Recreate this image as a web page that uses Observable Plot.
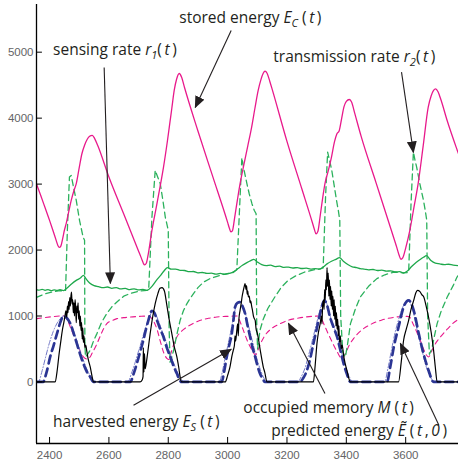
<!DOCTYPE html>
<html><head><meta charset="utf-8">
<script src="https://cdn.jsdelivr.net/npm/d3@7"></script>
<script src="https://cdn.jsdelivr.net/npm/@observablehq/plot@0.6"></script>
<style>body{margin:0;background:#fff} svg{display:block}</style>
</head><body><div id="chart"></div>
<script>
// ---- data: [time, value] ----
const xTicks = [2400, 2600, 2800, 3000, 3200, 3400, 3600];
const yTicks = [0, 1000, 2000, 3000, 4000, 5000];

const storedEnergy = [[2356,3000],[2370,2830],[2385,2640],[2400,2450],[2412,2290],[2422,2150],[2428,2070],[2433,2040],[2438,2060],[2444,2170],[2450,2300],[2456,2400],[2465,2590],[2473,2753],[2482,2900],[2490,3006],[2500,3250],[2509,3460],[2518,3590],[2527,3680],[2535,3725],[2544,3740],[2552,3690],[2562,3590],[2600,3108],[2650,2546],[2700,1983],[2710,1870],[2716,1800],[2720,1775],[2726,1800],[2733,1950],[2745,2298],[2760,2660],[2772,2950],[2784,3258],[2797,3650],[2806,3950],[2812,4150],[2820,4420],[2828,4590],[2837,4677],[2845,4620],[2855,4460],[2900,3805],[2950,3113],[3000,2420],[3006,2330],[3011,2275],[3016,2290],[3024,2500],[3033,2760],[3042,3006],[3055,3300],[3068,3580],[3081,3864],[3092,4150],[3103,4420],[3112,4580],[3120,4680],[3126,4712],[3133,4680],[3142,4560],[3150,4440],[3200,3648],[3250,2929],[3285,2425],[3292,2320],[3298,2245],[3304,2280],[3312,2520],[3320,2780],[3328,3006],[3339,3200],[3350,3409],[3360,3640],[3368,3760],[3376,3810],[3384,3990],[3392,4170],[3400,4255],[3410,4283],[3418,4240],[3428,4080],[3450,3723],[3500,3023],[3550,2323],[3570,2040],[3578,1920],[3584,1860],[3590,1880],[3600,2030],[3614,2298],[3628,2650],[3642,3006],[3659,3580],[3676,4167],[3686,4340],[3694,4420],[3701,4445],[3709,4400],[3718,4290],[3740,3960],[3774,3510],[3778,3459]];

const sensingRate = [[2356,1400],[2365,1392],[2375,1405],[2385,1390],[2395,1400],[2405,1385],[2415,1395],[2425,1388],[2435,1398],[2447,1385],[2460,1430],[2475,1490],[2490,1540],[2505,1580],[2514,1617],[2522,1570],[2535,1500],[2550,1460],[2565,1445],[2580,1430],[2595,1440],[2610,1420],[2625,1430],[2640,1410],[2655,1418],[2670,1400],[2685,1412],[2700,1395],[2715,1405],[2728,1390],[2745,1450],[2760,1540],[2775,1620],[2787,1690],[2797,1733],[2810,1710],[2825,1712],[2840,1692],[2855,1690],[2870,1672],[2885,1675],[2900,1655],[2915,1660],[2930,1645],[2945,1650],[2960,1635],[2975,1645],[2990,1630],[3005,1645],[3020,1670],[3035,1720],[3050,1770],[3065,1810],[3078,1840],[3088,1859],[3100,1820],[3115,1780],[3130,1765],[3145,1770],[3160,1750],[3175,1755],[3190,1738],[3205,1742],[3220,1728],[3235,1735],[3250,1720],[3265,1725],[3280,1712],[3295,1718],[3310,1710],[3322,1742],[3335,1790],[3350,1830],[3365,1860],[3377,1885],[3390,1830],[3405,1780],[3420,1745],[3435,1735],[3447,1718],[3460,1712],[3475,1700],[3490,1705],[3505,1690],[3520,1695],[3535,1680],[3550,1685],[3565,1668],[3580,1672],[3593,1652],[3605,1680],[3620,1750],[3635,1810],[3650,1860],[3660,1890],[3670,1915],[3685,1840],[3700,1800],[3715,1790],[3730,1778],[3745,1785],[3760,1770],[3778,1765]];

const transmissionRate = [[2356,1283],[2370,1310],[2385,1335],[2400,1355],[2415,1370],[2430,1380],[2447,1385],[2454,1389],[2460,2300],[2467,3106],[2473,3130],[2481,2950],[2490,2753],[2501,2450],[2513,2197],[2518,2150],[2519,600],[2521,380],[2528,420],[2537,480],[2548,620],[2560,737],[2575,900],[2593,1040],[2610,1140],[2627,1212],[2650,1300],[2672,1343],[2700,1375],[2728,1390],[2734,1400],[2745,2500],[2756,3208],[2765,3100],[2773,3006],[2782,2750],[2790,2500],[2800,2300],[2803,800],[2806,300],[2812,380],[2818,480],[2829,720],[2840,935],[2851,1080],[2863,1188],[2874,1270],[2885,1339],[2900,1430],[2919,1515],[2940,1565],[2964,1601],[2985,1630],[2998,1642],[3015,1650],[3031,1700],[3040,2600],[3048,3400],[3056,3200],[3065,3006],[3073,2850],[3082,2703],[3090,2600],[3096,2550],[3098,900],[3101,500],[3109,783],[3120,950],[3135,1110],[3159,1288],[3180,1430],[3204,1541],[3230,1610],[3260,1667],[3290,1700],[3310,1715],[3322,1730],[3330,2800],[3337,3485],[3344,3350],[3351,3208],[3359,2980],[3367,2753],[3373,2600],[3378,2450],[3381,1000],[3388,450],[3397,379],[3405,600],[3414,885],[3430,1100],[3447,1288],[3475,1450],[3503,1567],[3530,1625],[3560,1667],[3593,1655],[3610,1660],[3618,2700],[3626,3485],[3632,3350],[3637,3258],[3648,3000],[3660,2753],[3666,2600],[3671,2450],[3674,1000],[3680,420],[3688,500],[3697,700],[3706,885],[3720,1080],[3740,1288],[3760,1460],[3773,1590],[3778,1620]];

const occupiedMemory = [[2356,960],[2380,975],[2410,990],[2435,1000],[2447,1005],[2458,960],[2470,833],[2481,710],[2492,582],[2503,470],[2514,379],[2524,350],[2531,354],[2545,450],[2560,582],[2576,750],[2593,885],[2610,930],[2627,960],[2650,975],[2672,985],[2700,993],[2735,1000],[2745,960],[2762,800],[2773,620],[2785,440],[2796,354],[2802,340],[2810,450],[2818,560],[2829,682],[2845,770],[2863,833],[2885,890],[2908,935],[2935,965],[2964,985],[3000,995],[3031,1000],[3045,880],[3055,760],[3065,640],[3080,500],[3094,410],[3102,480],[3109,560],[3125,700],[3148,809],[3175,880],[3204,935],[3240,970],[3283,995],[3310,1000],[3325,870],[3340,720],[3355,580],[3370,450],[3385,354],[3397,430],[3410,560],[3425,660],[3450,780],[3481,870],[3520,940],[3560,980],[3605,995],[3612,990],[3625,880],[3637,760],[3649,632],[3662,480],[3677,379],[3688,470],[3700,580],[3717,682],[3740,800],[3773,935],[3778,945]];

const harvestedEnergy = [[2356,0],[2419,0],[2425,150],[2432,420],[2438,620],[2443,780],[2448,900],[2452,1000],[2455,1080],[2458,980],[2460,1150],[2462,1050],[2464,1220],[2466,1100],[2468,1280],[2470,1150],[2472,1300],[2474,1364],[2476,1180],[2478,1250],[2480,1050],[2482,1200],[2484,1000],[2486,1250],[2488,1120],[2490,900],[2492,1150],[2494,1050],[2496,1200],[2498,950],[2500,1080],[2502,850],[2504,1000],[2506,780],[2508,900],[2510,650],[2512,820],[2514,600],[2516,700],[2519,520],[2522,560],[2525,480],[2530,350],[2537,227],[2543,90],[2548,0],[2705,0],[2712,30],[2715,80],[2716,520],[2718,150],[2720,430],[2722,200],[2725,260],[2730,420],[2739,733],[2748,1000],[2756,1188],[2765,1340],[2772,1420],[2779,1430],[2787,1380],[2795,1170],[2803,950],[2812,733],[2820,540],[2829,379],[2836,200],[2840,76],[2845,0],[2992,0],[3000,100],[3008,227],[3014,380],[3019,480],[3023,560],[3025,700],[3027,620],[3031,783],[3034,880],[3036,700],[3038,950],[3042,1086],[3046,1200],[3049,1300],[3053,1389],[3056,1450],[3059,1490],[3062,1400],[3064,1460],[3066,1330],[3068,1380],[3070,1290],[3073,1300],[3076,1200],[3078,1230],[3081,1150],[3084,1080],[3087,1000],[3090,960],[3093,930],[3096,800],[3100,740],[3104,650],[3110,480],[3115,350],[3120,230],[3125,150],[3133,0],[3289,0],[3295,250],[3301,582],[3306,750],[3312,885],[3316,1000],[3318,880],[3320,1150],[3323,1238],[3325,1100],[3327,1400],[3329,1250],[3331,1550],[3333,1400],[3335,1733],[3337,1450],[3339,1650],[3341,1300],[3343,1550],[3345,1250],[3347,1450],[3349,1150],[3351,1380],[3353,1100],[3355,1300],[3357,1000],[3359,1250],[3361,950],[3363,1150],[3365,850],[3367,1050],[3369,800],[3371,950],[3373,700],[3375,850],[3377,600],[3380,700],[3383,500],[3386,560],[3391,400],[3396,280],[3402,177],[3408,60],[3414,0],[3576,0],[3585,300],[3593,632],[3602,800],[3610,935],[3618,1100],[3627,1237],[3634,1350],[3640,1389],[3648,1370],[3655,1320],[3661,1288],[3669,1150],[3677,985],[3686,750],[3694,480],[3700,220],[3706,0],[3778,0]];

const predictedEnergy = [[2356,0],[2378,0],[2390,150],[2402,379],[2414,560],[2425,733],[2436,900],[2447,1000],[2458,970],[2470,885],[2481,740],[2492,582],[2503,420],[2514,278],[2525,160],[2537,76],[2548,0],[2672,0],[2683,120],[2694,278],[2705,450],[2716,632],[2725,800],[2733,935],[2745,1080],[2753,1050],[2762,935],[2773,800],[2784,682],[2795,520],[2807,379],[2818,240],[2829,127],[2837,40],[2845,0],[2980,0],[2988,150],[2997,379],[3005,550],[3014,733],[3020,950],[3025,1136],[3033,1200],[3042,1212],[3050,1150],[3059,1036],[3067,860],[3076,682],[3084,520],[3093,379],[3101,240],[3109,127],[3118,50],[3126,0],[3244,0],[3255,60],[3266,160],[3278,350],[3289,580],[3300,800],[3310,1000],[3318,1150],[3326,1238],[3334,1180],[3345,985],[3357,830],[3369,682],[3380,480],[3391,278],[3402,120],[3414,0],[3537,0],[3548,227],[3560,530],[3576,833],[3593,1136],[3610,1238],[3627,1086],[3644,733],[3660,430],[3677,177],[3694,0],[3778,0]];

const predictedEnergy2 = [[2356,0],[2362,0],[2375,170],[2388,400],[2400,600],[2412,760],[2424,880],[2436,960],[2447,1000],[2458,980],[2470,900],[2482,760],[2494,600],[2506,430],[2518,280],[2530,150],[2542,60],[2555,0],[2664,0],[2676,130],[2688,290],[2700,470],[2712,650],[2724,830],[2735,960],[2745,1060],[2755,1040],[2766,940],[2777,800],[2789,660],[2800,510],[2812,360],[2824,220],[2836,100],[2848,20],[2853,0],[2972,0],[2982,150],[2992,370],[3002,580],[3012,800],[3021,1010],[3030,1170],[3040,1220],[3050,1170],[3060,1040],[3070,860],[3080,680],[3090,500],[3100,330],[3110,190],[3120,80],[3133,0],[3236,0],[3248,80],[3260,200],[3272,390],[3284,600],[3296,820],[3307,1020],[3316,1170],[3325,1240],[3334,1190],[3345,1010],[3357,850],[3369,700],[3381,500],[3393,300],[3405,140],[3422,0],[3529,0],[3540,200],[3552,480],[3565,760],[3580,1000],[3595,1180],[3607,1240],[3622,1120],[3638,800],[3655,480],[3670,220],[3685,60],[3700,0],[3778,0]];

// annotation labels (anchor in data units) and arrows (from -> tip, data units)
const labelTexts = ["stored energy", "sensing rate", "transmission rate", "harvested energy", "occupied memory", "predicted energy"];
const labelT = [2837, 2412, 3154, 2412, 3053, 3147];
const labelV = [5511, 5030, 4920, -610, -390, -750];
const arrowFrom = [[3012, 5329], [2584, 4768], [3586, 4697], [2683, -353], [3328, -176], [3712, -656]];
const arrowTip = [[2891, 4162], [2605, 1495], [3626, 3480], [3012, 495], [3205, 889], [3582, 586]];

const rich = [
  [["stored energy ", ""], ["E", "i"], ["C", "sub"], [" (\u2009", ""], ["t", "i"], ["\u2009)", ""]],
  [["sensing rate ", ""], ["r", "i"], ["1", "sub"], ["(\u2009", ""], ["t", "i"], ["\u2009)", ""]],
  [["transmission rate ", ""], ["r", "i"], ["2", "sub"], ["(\u2009", ""], ["t", "i"], ["\u2009)", ""]],
  [["harvested energy ", ""], ["E", "i"], ["S", "sub"], [" (\u2009", ""], ["t", "i"], ["\u2009)", ""]],
  [["occupied memory ", ""], ["M", "i"], [" (\u2009", ""], ["t", "i"], ["\u2009)", ""]],
  [["predicted energy ", ""], ["\u1EBC", "i"], [" (\u2009", ""], ["t", "i"], ["\u2009,\u2009", ""], ["0", "i"], ["\u2009)", ""]]
];

const rows = a => a.map(([t, v]) => ({t, v}));
const labels = labelTexts.map((s, i) => ({text: s, t: labelT[i], v: labelV[i]}));
const arrows = arrowFrom.map((f, i) => ({t1: f[0], v1: f[1], t2: arrowTip[i][0], v2: arrowTip[i][1]}));

const X0 = 2356, X1 = 3778, Y0 = -933, Y1 = 5723;
const MAG = "#e8198b", GREEN = "#1ea84b", GREEN2 = "#2bb15c", NAVY = "#2b3594", LAV = "#7177c6", INK = "#231f20";

const plot = Plot.plot({
  width: 458, height: 462,
  marginLeft: 36, marginRight: 0, marginTop: 4, marginBottom: 19,
  x: {domain: [X0, X1]},
  y: {domain: [Y0, Y1]},
  style: {fontFamily: "'Liberation Sans', Arial, sans-serif", fontSize: "11.5px", background: "#fff", overflow: "visible"},
  marks: [
    Plot.line(rows(occupiedMemory), {x: "t", y: "v", stroke: MAG, strokeWidth: 1.1, strokeDasharray: "5,4", curve: "monotone-x", clip: true}),
    Plot.line(rows(transmissionRate), {x: "t", y: "v", stroke: GREEN2, strokeWidth: 1.3, strokeDasharray: "6,4", clip: true}),
    Plot.line(rows(sensingRate), {x: "t", y: "v", stroke: GREEN, strokeWidth: 1.3, curve: "monotone-x", clip: true}),
    Plot.line(rows(storedEnergy), {x: "t", y: "v", stroke: MAG, strokeWidth: 1.3, curve: "monotone-x", clip: true}),
    Plot.line(rows(predictedEnergy2), {x: "t", y: "v", stroke: LAV, strokeWidth: 1, strokeDasharray: "5,2,1,2", curve: "monotone-x", clip: true}),
    Plot.line(rows(predictedEnergy), {x: "t", y: "v", stroke: NAVY, strokeWidth: 2.7, strokeDasharray: "8,5", curve: "monotone-x", clip: true}),
    Plot.line(rows(harvestedEnergy), {x: "t", y: "v", stroke: "#000", strokeWidth: 1.2, curve: "monotone-x", clip: true}),
    Plot.link(arrows, {x1: "t1", y1: "v1", x2: "t2", y2: "v2", stroke: INK, strokeWidth: 1.1}),
    Plot.text(labels, {x: "t", y: "v", text: "text", textAnchor: "start", fontSize: 15.5, fontFamily: "'Open Sans', sans-serif", fill: INK}),
    Plot.axisX(xTicks, {tickSize: 0, tickPadding: 7, label: null, tickFormat: d => String(d), fill: "#636466"}),
    Plot.axisY(yTicks, {tickSize: 0, tickPadding: 3, label: null, tickFormat: d => String(d), fill: "#636466"}),
    Plot.ruleX(xTicks, {y1: Y0, y2: Y0 + 91, stroke: "#000", strokeWidth: 1}),
    Plot.ruleY(yTicks, {x1: X0, x2: X0 + 20, stroke: "#000", strokeWidth: 1}),
    Plot.ruleX([X0], {stroke: "#000", strokeWidth: 1.3}),
    Plot.ruleY([Y0], {stroke: "#000", strokeWidth: 1.3})
  ]
});

const svg = d3.select(plot);
const defs = svg.append("defs");
defs.append("marker").attr("id", "tri").attr("viewBox", "0 0 12 10")
  .attr("refX", 11).attr("refY", 5).attr("markerWidth", 12).attr("markerHeight", 10)
  .attr("markerUnits", "userSpaceOnUse").attr("orient", "auto")
  .append("path").attr("d", "M0,0L12,5L0,10Z").attr("fill", INK);
svg.selectAll('g[aria-label="link"] path').attr("marker-end", "url(#tri)");

svg.selectAll('g[aria-label="text"] text').each(function (_, j) {
  const el = d3.select(this);
  const segs = rich[j];
  if (!segs) return;
  el.text(null);
  let shifted = false;
  segs.forEach(([s, st]) => {
    const ts = el.append("tspan").text(s);
    if (st === "i") ts.attr("font-style", "italic");
    if (st === "sub") {
      ts.attr("font-style", "italic").attr("font-size", "11px").attr("dy", "4");
      shifted = true;
    } else if (shifted) {
      ts.attr("dy", "-4");
      shifted = false;
    }
  });
});

document.getElementById("chart").appendChild(plot);
</script>
</body></html>
